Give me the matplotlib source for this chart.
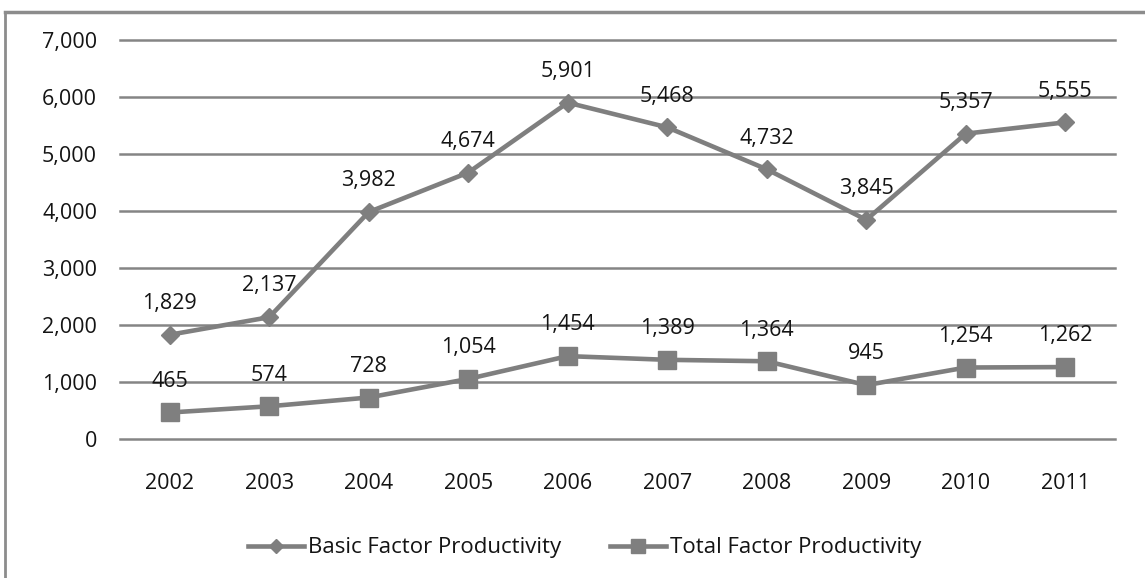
import matplotlib.pyplot as plt
from matplotlib.lines import Line2D
from matplotlib.ticker import FuncFormatter

years = ["2002", "2003", "2004", "2005", "2006", "2007", "2008", "2009", "2010", "2011"]
basic_fp = [1829, 2137, 3982, 4674, 5901, 5468, 4732, 3845, 5357, 5555]
total_fp = [465, 574, 728, 1054, 1454, 1389, 1364, 945, 1254, 1262]
series_names = ["Basic Factor Productivity", "Total Factor Productivity"]

grey = "#7f7f7f"
text_col = "#141414"
plt.rcParams["font.family"] = ["Open Sans", "DejaVu Sans"]

W, H = 1145, 578
fig = plt.figure(figsize=(W / 100, H / 100), dpi=100)
ax = fig.add_axes([120 / W, 1 - 439 / H, (1115 - 120) / W, (439 - 40) / H])

x = list(range(len(years)))
ax.plot(x, basic_fp, color=grey, lw=3.3, marker="D", ms=9.5, mec=grey, mfc=grey, zorder=3)
ax.plot(x, total_fp, color=grey, lw=3.3, marker="s", ms=13, mec=grey, mfc=grey, zorder=3)

for series in (basic_fp, total_fp):
    for xi, v in zip(x, series):
        ax.annotate(f"{v:,}", (xi, v), xytext=(0, 22.5), textcoords="offset points",
                    ha="center", va="center", fontsize=15.5, color=text_col)

ax.set_xlim(-0.5, len(years) - 0.5)
ax.set_ylim(0, 7000)
ax.set_yticks(range(0, 7001, 1000))
ax.yaxis.set_major_formatter(FuncFormatter(lambda v, p: f"{int(v):,}"))
ax.set_xticks(x)
ax.set_xticklabels(years)
ax.tick_params(axis="both", length=0, labelsize=15.5, labelcolor=text_col)
ax.tick_params(axis="y", pad=16.5)
ax.tick_params(axis="x", pad=24.5)
ax.grid(axis="y", color="#858585", lw=1.8)
for gl in ax.get_ygridlines():
    gl.set_clip_on(False)
ax.set_axisbelow(True)
for s in ax.spines.values():
    s.set_visible(False)

handles = [
    Line2D([], [], color=grey, lw=3.3, marker="D", ms=7.5, mfc=grey, mec=grey),
    Line2D([], [], color=grey, lw=3.3, marker="s", ms=10, mfc=grey, mec=grey),
]
fig.legend(handles, series_names, loc="center", bbox_to_anchor=(585 / W, 1 - 548 / H),
           ncol=2, frameon=False, handlelength=2.5, handletextpad=0.2, columnspacing=2.2,
           prop={"size": 16}, labelcolor=text_col)

# outer frame of the chart (partly cropped in the original)
fig.add_artist(Line2D([5 / W, 5 / W], [0, 1 - 12 / H], transform=fig.transFigure,
                      color="#8c8c8c", lw=2))
fig.add_artist(Line2D([5 / W, 1], [1 - 12 / H, 1 - 12 / H], transform=fig.transFigure,
                      color="#8c8c8c", lw=2.5))

fig.savefig("out.png", dpi=100)
